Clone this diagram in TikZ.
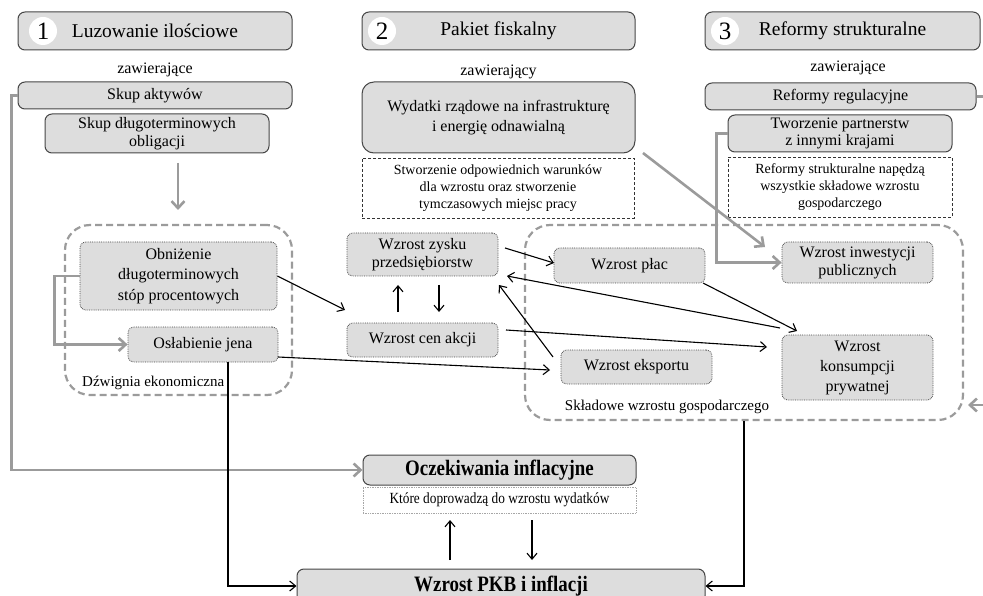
\documentclass[tikz,border=0pt]{standalone}
\usepackage{fontspec}
\setmainfont{Liberation Serif}
\newfontfamily\condfont[FakeStretch=0.86]{Liberation Serif}
\usetikzlibrary{arrows.meta}
\definecolor{boxfill}{RGB}{221,221,221}
\definecolor{boxline}{RGB}{70,70,70}
\definecolor{grayline}{RGB}{155,155,155}
\tikzset{
 base/.style={rectangle, rounded corners=7pt, fill=boxfill, draw=boxline, line width=1pt, align=center, inner sep=1pt, font=\fontsize{16}{19}\selectfont},
 hdr/.style={base, font=\fontsize{19.5}{22}\selectfont},
 dbox/.style={rectangle, rounded corners=6pt, fill=boxfill, draw=boxline, densely dotted, line width=0.8pt, align=center, inner sep=1pt, font=\fontsize{16}{19.5}\selectfont},
 note/.style={rectangle, draw=black!80, densely dashed, line width=0.7pt, align=center, inner sep=1pt, font=\fontsize{14}{17}\selectfont},
 cont/.style={rectangle, draw=grayline, line width=2.2pt, dash pattern=on 7pt off 4pt, rounded corners=25pt, inner sep=0pt},
 garrow/.style={draw=grayline, line width=2.6pt, -{Straight Barb[length=7pt,width=13pt]}},
 barrow/.style={draw=black, line width=1.1pt, -{Straight Barb[length=6pt,width=10pt]}},
 num/.style={circle, fill=white, minimum size=28pt, inner sep=0pt, font=\fontsize{25}{25}\selectfont},
 lbl/.style={inner sep=0pt, font=\fontsize{16}{19}\selectfont},
}
\begin{document}
\begin{tikzpicture}[x=1pt,y=-1pt]
\useasboundingbox (0,0) rectangle (983,596);

% containers
\node[cont, minimum width=227pt, minimum height=170pt] (dz) at (178.5,310) {};
\node[cont, minimum width=438pt, minimum height=195pt] (sk) at (744,322.5) {};

% headers
\node[hdr, minimum width=274pt, minimum height=38pt] (h1) at (155,31) {Luzowanie ilościowe};
\node[hdr, minimum width=273pt, minimum height=38pt] (h2) at (498.5,31) {Pakiet fiskalny};
\node[hdr, minimum width=275pt, minimum height=38pt] (h3) at (842.5,31) {Reformy strukturalne};
\node[num] (n1) at (43,31) {1};
\node[num] (n2) at (382,31) {2};
\node[num] (n3) at (725,31) {3};

\node[lbl] (z1) at (155,70) {zawierające};
\node[lbl] (z2) at (498.5,72) {zawierający};
\node[lbl] (z3) at (848,68) {zawierające};

% column 1
\node[base, minimum width=274pt, minimum height=27pt] (skup) at (155,95.5) {Skup aktywów};
\node[base, minimum width=224pt, minimum height=39pt, font=\fontsize{16}{18}\selectfont] (skupdl) at (157,133.5) {Skup długoterminowych\\obligacji};

% column 2
\node[base, rounded corners=12pt, minimum width=273pt, minimum height=71pt, font=\fontsize{16}{20}\selectfont] (wyd) at (498.5,117.5) {Wydatki rządowe na infrastrukturę\\i energię odnawialną};
\node[note, minimum width=272pt, minimum height=60pt] (note2) at (498,188) {Stworzenie odpowiednich warunków\\dla wzrostu oraz stworzenie\\tymczasowych miejsc pracy};

% column 3
\node[base, minimum width=271pt, minimum height=27pt] (reg) at (840.5,96.5) {Reformy regulacyjne};
\node[base, minimum width=224pt, minimum height=37pt, font=\fontsize{16}{17}\selectfont] (tw) at (840,133.5) {Tworzenie partnerstw\\z innymi krajami};
\node[note, minimum width=224pt, minimum height=60pt] (note3) at (840,187) {Reformy strukturalne napędzą\\wszystkie składowe wzrostu\\gospodarczego};

% left container content
\node[dbox, minimum width=197pt, minimum height=68pt, font=\fontsize{16}{20.5}\selectfont] (obn) at (178.5,276) {Obniżenie\\długoterminowych\\stóp procentowych};
\node[dbox, minimum width=150pt, minimum height=35pt] (osl) at (203,344.5) {Osłabienie jena};
\node[lbl, anchor=west, font=\fontsize{15}{18}\selectfont] (dzl) at (82,383) {Dźwignia ekonomiczna};

% middle
\node[dbox, minimum width=151pt, minimum height=43pt, font=\fontsize{16}{18}\selectfont] (zysk) at (422.5,254.5) {Wzrost zysku\\przedsiębiorstw};
\node[dbox, minimum width=151pt, minimum height=34pt] (akcji) at (422.5,340) {Wzrost cen akcji};

% right container content
\node[dbox, minimum width=151pt, minimum height=35pt] (placy) at (629.5,265.5) {Wzrost płac};
\node[dbox, minimum width=151pt, minimum height=41pt, font=\fontsize{16}{18}\selectfont] (inw) at (857.5,262.5) {Wzrost inwestycji\\publicznych};
\node[dbox, minimum width=151pt, minimum height=34pt] (eksp) at (636.5,367) {Wzrost eksportu};
\node[dbox, minimum width=151pt, minimum height=65pt, font=\fontsize{16}{20}\selectfont] (kons) at (857.5,367.5) {Wzrost\\konsumpcji\\prywatnej};
\node[lbl, font=\fontsize{15}{18}\selectfont] (skl) at (667,407) {Składowe wzrostu gospodarczego};

% bottom
\node[base, minimum width=273pt, minimum height=30pt, font=\fontsize{22}{24}\condfont\bfseries] (ocz) at (499.5,470) {Oczekiwania inflacyjne};
\node[note, draw=gray!70, densely dotted, minimum width=273pt, minimum height=26pt, font=\fontsize{15.5}{18}\condfont] (note4) at (499.5,500) {Które doprowadzą do wzrostu wydatków};
\node[base, minimum width=408pt, minimum height=34pt, font=\fontsize{22}{24}\condfont\bfseries] (pkb) at (501,586) {Wzrost PKB i inflacji};

% coordinates
\coordinate (gdl1) at (178,163);
\coordinate (gdl2) at (178,210);
\coordinate (gw1) at (643,153);
\coordinate (gw2) at (765,247);
\coordinate (rr) at (995,96.5);
\coordinate (rtip) at (968,405);
\coordinate (obnTip) at (345,310);
\coordinate (zyskOut) at (505,248);
\coordinate (placyIn) at (554,263);
\coordinate (konsOut) at (780,328);
\coordinate (zyskIn1) at (507,276);
\coordinate (ekspOut) at (553,357);
\coordinate (zyskIn2) at (499,285);
\coordinate (akcjiOut) at (506,330);
\coordinate (konsIn1) at (767,347);
\coordinate (oslOut) at (278,357);
\coordinate (ekspIn) at (550,370);
\coordinate (placyOut) at (703,283);
\coordinate (konsIn2) at (797,331);
\coordinate (up1) at (398,312);
\coordinate (up2) at (398,285);
\coordinate (dn1) at (439,285);
\coordinate (dn2) at (439,312);
\coordinate (oslDown) at (228,362);
\coordinate (pu1) at (450,560);
\coordinate (pu2) at (450,520);
\coordinate (pd1) at (532,520);
\coordinate (pd2) at (532,560);

% gray connectors
\draw[garrow] (skup.west) -- ++(-6,0) |- (ocz.west);
\draw[garrow] (gdl1) -- (gdl2);
\draw[garrow] (obn.west) -- ++(-25,0) |- (osl.west);
\draw[garrow] (tw.west) -- ++(-11,0) |- (inw.west);
\draw[garrow] (gw1) -- (gw2);
\draw[garrow] (reg.east) -- (rr) |- (rtip);

% black connectors
\draw[barrow] (obn.east) -- (obnTip);
\draw[barrow] (zyskOut) -- (placyIn);
\draw[barrow] (konsOut) -- (zyskIn1);
\draw[barrow] (ekspOut) -- (zyskIn2);
\draw[barrow] (akcjiOut) -- (konsIn1);
\draw[barrow] (oslOut) -- (ekspIn);
\draw[barrow] (placyOut) -- (konsIn2);
\draw[barrow] (up1) -- (up2);
\draw[barrow] (dn1) -- (dn2);
\draw[barrow] (oslDown) |- (pkb.west);
\draw[barrow] (sk.south) |- (pkb.east);
\draw[barrow] (pu1) -- (pu2);
\draw[barrow] (pd1) -- (pd2);
\end{tikzpicture}
\end{document}
